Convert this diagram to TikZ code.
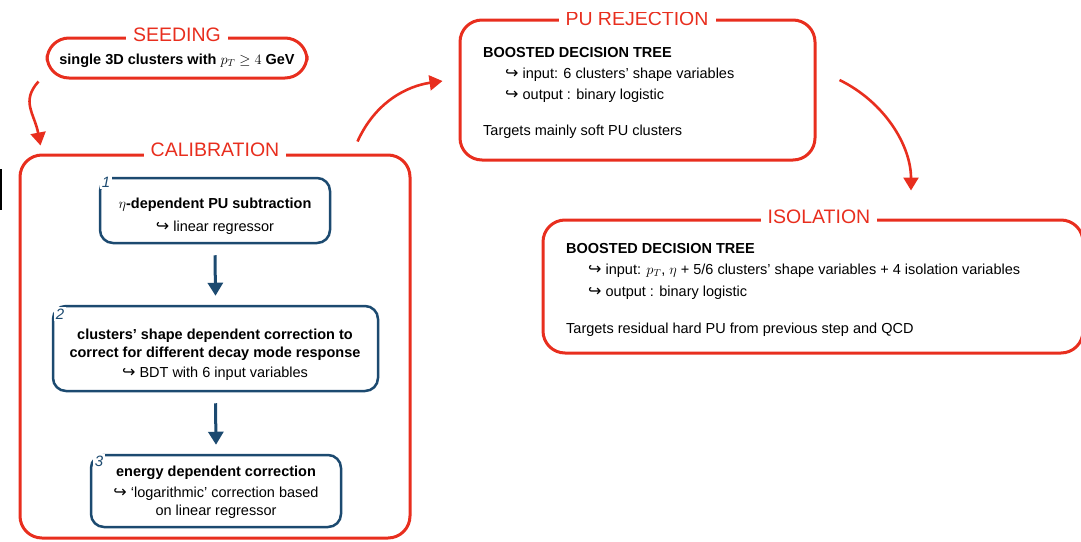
\documentclass[tikz,border=0pt]{standalone}
\usepackage{fontspec}
\setmainfont{Liberation Sans}
\newfontfamily\symf{DejaVu Sans}
\usetikzlibrary{arrows.meta}
\definecolor{sred}{RGB}{232,46,30}
\definecolor{sblue}{RGB}{28,74,112}
\newcommand{\hk}{{\symf\fontsize{16}{16}\selectfont ↪}}
\begin{document}
\begin{tikzpicture}[x=1pt,y=-1pt,
  redbox/.style={draw=sred, line width=3pt, rounded corners=22pt},
  bluebox/.style={draw=sblue, line width=2.5pt, rounded corners=13pt},
  titlelab/.style={fill=white, text=sred, font=\fontsize{19.5}{19.5}\selectfont, inner xsep=7pt, inner ysep=1pt},
  numlab/.style={fill=white, text=sblue, font=\fontsize{15}{15}\selectfont\itshape, inner sep=2pt},
  txt/.style={font=\fontsize{14.5}{17}\selectfont, inner sep=0pt},
  btxt/.style={font=\fontsize{14.5}{17}\selectfont\bfseries, inner sep=0pt},
  redarrow/.style={draw=sred, line width=2.6pt, -{Triangle[length=13pt,width=15pt]}},
  bluearrow/.style={draw=sblue, line width=3pt, -{Triangle[length=13pt,width=15pt]}},
]
\useasboundingbox (0,0) rectangle (1081,541);

% artifact line at the left edge
\draw[black, line width=2pt] (1,169) -- (1,210);

% ---------- SEEDING ----------
\node[redbox, minimum width=260pt, minimum height=40pt] (seed) at (177,58) {};
\node[titlelab] (seedt) at (177,35) {SEEDING};
\node[btxt, anchor=base] (seedx) at (177,64) {single 3D clusters with $p_T \geq 4$ GeV};

% ---------- CALIBRATION ----------
\node[redbox, minimum width=390pt, minimum height=383pt] (calib) at (215,346.5) {};
\node[titlelab] (calibt) at (215,150) {CALIBRATION};

\node[bluebox, minimum width=230pt, minimum height=65pt] (b1) at (215,210.5) {};
\node[numlab] (n1) at (106,182) {1};
\node[btxt, anchor=base] (b1a) at (215,208) {$\eta$-dependent PU subtraction};
\node[txt, anchor=base] (b1b) at (215,231) {\hk\ linear regressor};

\node[bluebox, minimum width=325pt, minimum height=85pt] (b2) at (215.5,348.5) {};
\node[numlab] (n2) at (60,314) {2};
\node[btxt, anchor=base] (b2a) at (215,339) {clusters’ shape dependent correction to};
\node[btxt, anchor=base] (b2b) at (215,357) {correct for different decay mode response};
\node[txt, anchor=base] (b2c) at (215,377) {\hk\ BDT with 6 input variables};

\node[bluebox, minimum width=250pt, minimum height=72pt] (b3) at (216,491) {};
\node[numlab] (n3) at (99,461) {3};
\node[btxt, anchor=base] (b3a) at (216,476) {energy dependent correction};
\node[txt, anchor=base] (b3b) at (216,497) {\hk\ ‘logarithmic’ correction based};
\node[txt, anchor=base] (b3c) at (216,515) {on linear regressor};

\draw[bluearrow] (b1.south) ++(0,11) coordinate (a1s) (a1s) -- ([yshift=9pt]b2.north);
\draw[bluearrow] (b2.south) ++(0,11) coordinate (a2s) (a2s) -- ([yshift=9pt]b3.north);

% ---------- PU REJECTION ----------
\node[redbox, minimum width=355pt, minimum height=140pt] (pu) at (637.5,90) {};
\begin{scope}
\clip (0,12) rectangle (1081,541);
\node[titlelab] (put) at (637,18.5) {PU REJECTION};
\end{scope}
\node[btxt, anchor=base west] (pua) at (483,57) {BOOSTED DECISION TREE};
\node[txt, anchor=base west] (pub) at (505,78) {\hk\ input: 6 clusters’ shape variables};
\node[txt, anchor=base west] (puc) at (505,99) {\hk\ output : binary logistic};
\node[txt, anchor=base west] (pud) at (483,135) {Targets mainly soft PU clusters};

% ---------- ISOLATION ----------
\node[redbox, minimum width=540pt, minimum height=133pt] (iso) at (813,286.5) {};
\node[titlelab] (isot) at (819,217) {ISOLATION};
\node[btxt, anchor=base west] (isoa) at (566,253) {BOOSTED DECISION TREE};
\node[txt, anchor=base west] (isob) at (588,274) {\hk\ input: $p_T$, $\eta$ + 5/6 clusters’ shape variables + 4 isolation variables};
\node[txt, anchor=base west] (isoc) at (588,296) {\hk\ output : binary logistic};
\node[txt, anchor=base west] (isod) at (566,333) {Targets residual hard PU from previous step and QCD};

% ---------- red connectors ----------
\draw[redarrow] ([xshift=-7pt,yshift=-2pt]seed.south west) .. controls +(-18,20) and +(-6,-32) .. ([xshift=22pt,yshift=8pt]calib.north west);
\draw[redarrow] ([xshift=-54pt,yshift=12pt]calib.north east) .. controls +(18,-40) and +(-35,5) .. ([xshift=-16pt,yshift=9pt]pu.west);
\draw[redarrow] ([xshift=23pt,yshift=10pt]pu.east) .. controls +(45,22) and +(0,-45) .. ([xshift=98pt,yshift=28pt]iso.north);
\end{tikzpicture}
\end{document}
